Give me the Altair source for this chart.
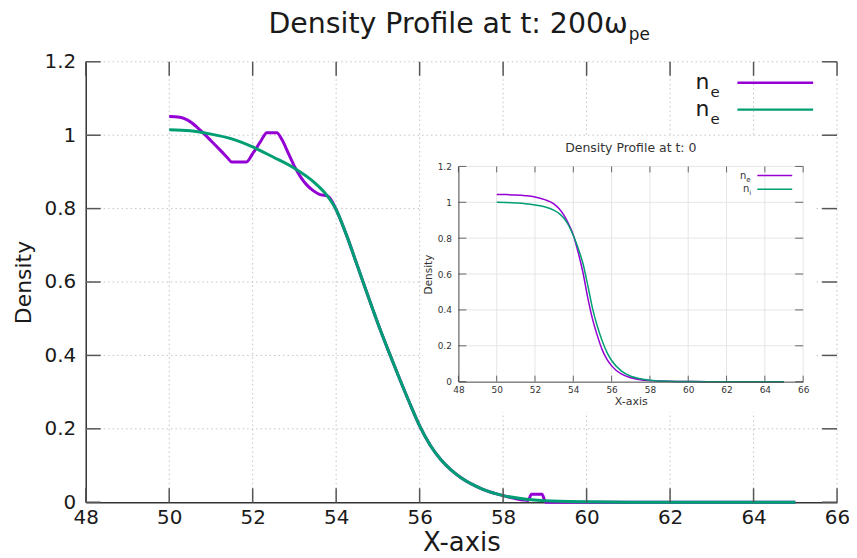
import altair as alt
import pandas as pd

FONT = "DejaVu Sans"
PURPLE = "#9400d3"
TEAL = "#009e73"

# ---------------- data: main panel (t = 200 w_pe) ----------------
x_ne_200 = [50.0, 50.25, 50.5, 50.75, 51.0, 51.25, 51.4, 51.5, 51.85, 52.0, 52.1, 52.2,
            52.34, 52.58, 52.7, 52.85, 53.0, 53.15, 53.3, 53.45, 53.6, 53.8, 53.9, 54.0,
            54.25, 54.5, 54.75, 55.0, 55.25, 55.5, 55.75, 56.0, 56.25, 56.5, 56.75, 57.0,
            57.5, 58.0, 58.5, 58.6, 58.68, 58.93, 59.02, 60.0, 65.0]
ne_200 = [1.051, 1.049, 1.037, 1.013, 0.985, 0.956, 0.938, 0.927, 0.927, 0.950, 0.967, 0.985,
          1.007, 1.007, 0.988, 0.952, 0.915, 0.886, 0.864, 0.849, 0.839, 0.834, 0.820, 0.797,
          0.727, 0.647, 0.566, 0.487, 0.413, 0.342, 0.273, 0.208, 0.156, 0.117, 0.088, 0.066,
          0.036, 0.018, 0.006, 0.005, 0.022, 0.022, 0.0, 0.0, 0.0]

x_ni_200 = [50.0, 50.5, 51.0, 51.5, 52.0, 52.5, 53.0, 53.5, 53.75, 54.0, 54.25, 54.5, 54.75,
            55.0, 55.25, 55.5, 55.75, 56.0, 56.25, 56.5, 56.75, 57.0, 57.5, 58.0, 58.5, 59.0,
            60.0, 61.0, 62.0, 65.0]
ni_200 = [1.015, 1.012, 1.003, 0.990, 0.968, 0.940, 0.910, 0.869, 0.840, 0.797, 0.727, 0.647,
          0.566, 0.487, 0.413, 0.342, 0.273, 0.208, 0.156, 0.117, 0.088, 0.066, 0.036, 0.018,
          0.009, 0.004, 0.001, 0.0, 0.0, 0.0]

# ---------------- data: inset (t = 0) ----------------
x_t0 = [50.0, 50.5, 51.0, 51.5, 52.0, 52.5, 53.0, 53.25, 53.5, 53.75, 54.0, 54.25, 54.5,
        54.75, 55.0, 55.25, 55.5, 55.75, 56.0, 56.5, 57.0, 57.5, 58.0, 59.0, 60.0, 61.0, 65.0]
ne_t0 = [1.044, 1.043, 1.041, 1.037, 1.030, 1.015, 0.990, 0.965, 0.930, 0.880, 0.818, 0.722,
         0.610, 0.470, 0.350, 0.258, 0.180, 0.125, 0.088, 0.043, 0.022, 0.011, 0.006, 0.002,
         0.0005, 0.0, 0.0]
ni_t0 = [1.000, 0.999, 0.996, 0.992, 0.985, 0.975, 0.955, 0.938, 0.912, 0.872, 0.815, 0.745,
         0.660, 0.540, 0.410, 0.310, 0.230, 0.165, 0.118, 0.060, 0.030, 0.016, 0.008, 0.002,
         0.0005, 0.0, 0.0]

x_ticks = [48, 50, 52, 54, 56, 58, 60, 62, 64, 66]
y_ticks = [0, 0.2, 0.4, 0.6, 0.8, 1.0, 1.2]

W, H = 754, 442


def MX():
    return alt.Scale(domain=[48, 66], nice=False, zero=False)


def MY():
    return alt.Scale(domain=[0, 1.2], nice=False, zero=False)


def IX():
    return alt.Scale(domain=[48, 66], range=[374, 720], nice=False, zero=False)


def IY():
    return alt.Scale(domain=[0, 1.2], range=[321, 105], nice=False, zero=False)


def line(xs, ys, color, width, sx, sy, xaxis=None, yaxis=None):
    df = pd.DataFrame({"x": xs, "y": ys})
    return alt.Chart(df).mark_line(color=color, strokeWidth=width, interpolate="monotone").encode(
        x=alt.X("x:Q", scale=sx, axis=xaxis),
        y=alt.Y("y:Q", scale=sy, axis=yaxis),
    )


def vgrid(vals, sx, sy, **mk):
    df = pd.DataFrame({"v": vals, "lo": 0.0, "hi": 1.2})
    return alt.Chart(df).mark_rule(**mk).encode(
        x=alt.X("v:Q", scale=sx, axis=None),
        y=alt.Y("lo:Q", scale=sy, axis=None), y2="hi:Q")


def hgrid(vals, sx, sy, **mk):
    df = pd.DataFrame({"v": vals, "lo": 48.0, "hi": 66.0})
    return alt.Chart(df).mark_rule(**mk).encode(
        y=alt.Y("v:Q", scale=sy, axis=None),
        x=alt.X("lo:Q", scale=sx, axis=None), x2="hi:Q")


def xticks(vals, at, sx, sy, off, **mk):
    df = pd.DataFrame({"v": vals, "b": at})
    return alt.Chart(df).mark_rule(y2Offset=off, **mk).encode(
        x=alt.X("v:Q", scale=sx, axis=None),
        y=alt.Y("b:Q", scale=sy, axis=None), y2="b:Q")


def yticks(vals, at, sx, sy, off, **mk):
    df = pd.DataFrame({"v": vals, "b": at})
    return alt.Chart(df).mark_rule(x2Offset=off, **mk).encode(
        y=alt.Y("v:Q", scale=sy, axis=None),
        x=alt.X("b:Q", scale=sx, axis=None), x2="b:Q")


def text(t, x, y, size, align="left", color="#1a1a1a"):
    return alt.Chart(pd.DataFrame({"t": [t]})).mark_text(
        align=align, baseline="alphabetic", fontSize=size, font=FONT, color=color
    ).encode(x=alt.value(x), y=alt.value(y), text="t:N")


def seg(name, x1, x2, y, color, width):
    return alt.Chart(pd.DataFrame({"s": [name]})).mark_rule(color=color, strokeWidth=width).encode(
        x=alt.value(x1), x2=alt.value(x2), y=alt.value(y))


main_x_axis = alt.Axis(orient="bottom", values=x_ticks, grid=False, ticks=False, domainColor="#333",
                       domainWidth=1.5, labelFont=FONT, labelFontSize=20, labelColor="#1a1a1a",
                       labelPadding=5, labelFlush=False, title="X-axis", titleFont=FONT,
                       titleFontSize=26, titleFontWeight="normal", titleColor="#1a1a1a",
                       titlePadding=2)
main_y_axis = alt.Axis(orient="left", values=y_ticks, format="~g", grid=False, ticks=False,
                       domainColor="#333", domainWidth=1.5, labelFont=FONT, labelFontSize=20,
                       labelColor="#1a1a1a", labelPadding=10, labelFlush=False, title="Density",
                       titleFont=FONT, titleFontSize=22, titleFontWeight="normal",
                       titleColor="#1a1a1a", titlePadding=9)

in_x_axis = alt.Axis(orient="bottom", offset=-121, zindex=1, values=x_ticks, grid=False, ticks=False,
                     domainColor="#444", domainWidth=1, labelFont=FONT, labelFontSize=9,
                     labelColor="#333", labelPadding=4, labelFlush=False, title="X-axis",
                     titleFont=FONT, titleFontSize=11, titleFontWeight="normal", titleColor="#333",
                     titlePadding=1)
in_y_axis = alt.Axis(orient="left", offset=-374, zindex=1, values=y_ticks, format="~g", grid=False,
                     ticks=False, domainColor="#444", domainWidth=1, labelFont=FONT, labelFontSize=9,
                     labelColor="#333", labelPadding=7, labelFlush=False, title="Density",
                     titleFont=FONT, titleFontSize=10.5, titleFontWeight="normal", titleColor="#333",
                     titlePadding=4)

tick_style = dict(color="#555", strokeWidth=1.5)
in_tick = dict(color="#666", strokeWidth=1)

layers = [
    # main panel
    vgrid(x_ticks[1:], MX(), MY(), color="#c4c4c4", strokeWidth=1, strokeDash=[1.5, 3]),
    hgrid(y_ticks[1:], MX(), MY(), color="#c4c4c4", strokeWidth=1, strokeDash=[1.5, 3]),
    alt.Chart(pd.DataFrame({"s": ["inset"]})).mark_rect(color="white").encode(
        x=alt.value(338), x2=alt.value(732), y=alt.value(76), y2=alt.value(352)),
    line(x_ne_200, ne_200, PURPLE, 3, MX(), MY(), main_x_axis, main_y_axis),
    line(x_ni_200, ni_200, TEAL, 3, MX(), MY()),
    xticks(x_ticks, 0.0, MX(), MY(), -14, **tick_style),
    xticks(x_ticks, 1.2, MX(), MY(), 14, **tick_style),
    yticks(y_ticks, 48.0, MX(), MY(), 15, **tick_style),
    yticks(y_ticks, 66.0, MX(), MY(), -15, **tick_style),
    text("Density Profile at t: 200ω", 544, -29, 28.5, align="right"),
    text("pe", 545, -22, 17),
    text("n", 626, 27, 22, align="right"),
    text("e", 627, 35, 15),
    seg("n_e", 654, 730, 21, PURPLE, 2.5),
    text("n", 626, 54, 22, align="right"),
    text("e", 627, 62, 15),
    seg("n_e2", 654, 730, 48, TEAL, 2.5),
    # inset panel
    vgrid(x_ticks[1:], IX(), IY(), color="#e6e6e6", strokeWidth=1),
    hgrid(y_ticks[1:], IX(), IY(), color="#e6e6e6", strokeWidth=1),
    xticks(x_ticks, 0.0, IX(), IY(), -6, **in_tick),
    xticks(x_ticks, 1.2, IX(), IY(), 6, **in_tick),
    yticks(y_ticks, 48.0, IX(), IY(), 8, **in_tick),
    yticks(y_ticks, 66.0, IX(), IY(), -8, **in_tick),
    line(x_t0, ne_t0, PURPLE, 1.5, IX(), IY(), in_x_axis, in_y_axis),
    line(x_t0, ni_t0, TEAL, 1.5, IX(), IY()),
    text("Density Profile at t: 0", 547, 91, 12.5, align="center", color="#333"),
    text("n", 663, 118, 10, align="right", color="#333"),
    text("e", 663, 121, 7, color="#333"),
    seg("in_ne", 674, 709, 114, PURPLE, 1.5),
    text("n", 666, 131, 10, align="right", color="#333"),
    text("i", 666, 134, 7, color="#333"),
    seg("in_ni", 674, 709, 128, TEAL, 1.5),
]

chart = alt.layer(*layers).resolve_scale(x="independent", y="independent").properties(
    width=W, height=H,
    padding={"left": 78, "top": 53, "right": 12, "bottom": 60},
    autosize=alt.AutoSizeParams(type="none"),
).configure_view(stroke=None)

chart.save("out.html", embed_options={"renderer": "svg", "actions": False})
